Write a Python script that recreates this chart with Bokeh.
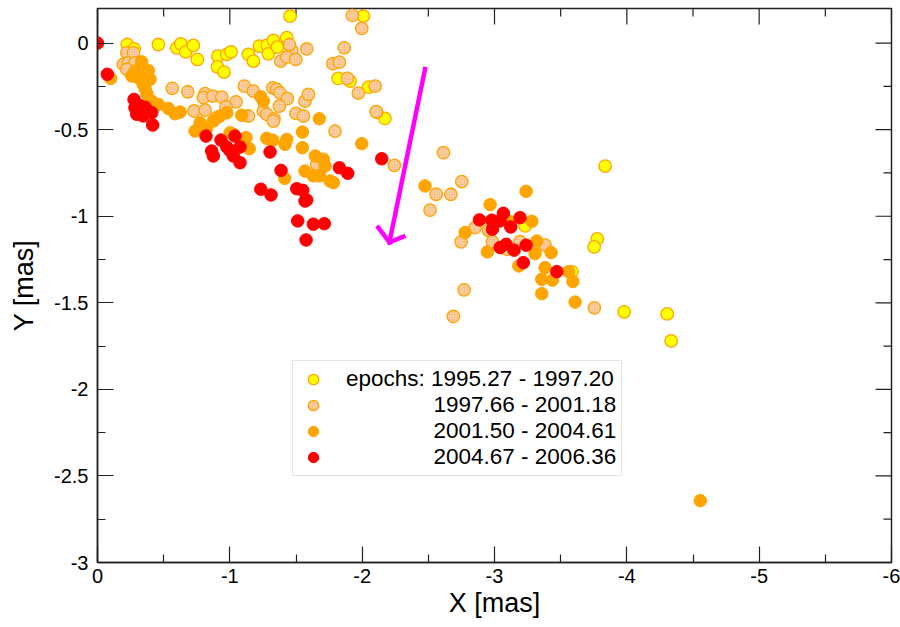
from bokeh.plotting import figure
from bokeh.models import Range1d, FixedTicker, Legend, LegendItem, Arrow
from bokeh.embed import file_html
from bokeh.resources import INLINE

# ---------------- data ----------------
# epochs 1995.27 - 1997.20 (yellow)
x_yellow = [-0.225, -0.278, -0.460, -0.599, -0.629, -0.667, -0.724, -0.754, -0.909,
            -0.906, -0.956, -0.977, -1.009, -1.140, -1.178, -1.223, -1.283, -1.291,
            -1.329, -1.359, -1.430, -1.455, -2.009, -1.818, -1.909, -2.048, -2.171,
            -3.836, -3.776, -3.753, -3.980, -4.305, -4.335, -3.231, -3.586]
y_yellow = [-0.008, -0.033, -0.008, -0.027, -0.004, -0.050, -0.013, -0.094, -0.075,
            -0.137, -0.167, -0.065, -0.050, -0.065, -0.104, -0.017, -0.012, -0.062,
            0.016, -0.023, 0.032, 0.156, 0.156, -0.204, -0.219, -0.254, -0.435,
            -0.710, -1.131, -1.177, -1.552, -1.564, -1.720, -1.056, -1.321]

# epochs 1997.66 - 2001.18 (hatched)
x_hatch = [-0.221, -0.271, -0.195, -0.233, -0.259, -0.296, -0.283, -0.221,
           -0.565, -0.682, -0.813, -0.800, -0.871, -0.939, -1.047, -0.729, -0.813,
           -0.901, -0.971, -1.140, -1.110, -1.178, -1.324, -1.354, -1.379, -1.435,
           -1.374, -1.253, -1.279, -1.334, -1.500, -1.556, -1.568, -1.594, -1.795,
           -2.110, -1.657, -1.926, -1.997, -1.865, -1.778, -1.828, -1.888, -1.971,
           -2.098, -2.105, -1.581, -1.468, -1.450, -1.385, -1.430, -1.498, -1.329,
           -2.243, -2.614, -2.753, -2.559, -2.670, -2.513, -2.853, -2.748, -2.954,
           -2.984, -3.093, -3.193, -3.382, -2.770, -2.689, -3.755]
y_hatch = [-0.056, -0.056, -0.123, -0.114, -0.143, -0.152, -0.114, -0.152,
           -0.261, -0.281, -0.292, -0.315, -0.306, -0.312, -0.339, -0.392, -0.387,
           -0.431, -0.369, -0.421, -0.248, -0.277, -0.258, -0.267, -0.287, -0.321,
           -0.364, -0.392, -0.411, -0.437, -0.406, -0.421, -0.335, -0.296, -0.508,
           -0.398, -0.700, 0.160, 0.085, -0.027, -0.119, -0.110, -0.204, -0.289,
           -0.248, -0.396, -0.033, -0.042, -0.008, -0.104, -0.081, -0.094, -0.450,
           -0.706, -0.633, -0.800, -0.873, -0.873, -0.965, -1.066, -1.148, -1.081,
           -1.147, -1.190, -1.147, -1.167, -1.425, -1.579, -1.529]

# epochs 2001.50 - 2004.61 (orange)
x_orange = [-0.100, -0.334, -0.384, -0.397, -0.359, -0.259, -0.308, -0.283, -0.344,
            -0.374, -0.410, -0.460, -0.535, -0.586, -0.624, -0.775, -0.737, -0.825,
            -0.875, -0.926, -0.977, -1.090, -1.147, -1.122, -1.002, -1.026, -1.234,
            -1.253, -1.279, -1.324, -1.430, -1.417, -1.548, -1.548, -1.676, -1.646,
            -1.707, -1.720, -1.568, -1.631, -1.676, -1.757, -1.782, -1.415, -1.997,
            -2.475, -2.778, -3.239, -2.967, -3.118, -3.282, -3.320, -2.946, -3.307,
            -3.428, -3.184, -3.382, -3.357, -3.438, -3.559, -3.592, -3.357, -3.609,
            -4.555]
y_orange = [-0.204, -0.108, -0.158, -0.209, -0.261, -0.190, -0.200, -0.162, -0.237,
            -0.294, -0.335, -0.354, -0.377, -0.408, -0.398, -0.460, -0.508, -0.489,
            -0.450, -0.421, -0.402, -0.417, -0.610, -0.546, -0.518, -0.527, -0.310,
            -0.335, -0.550, -0.561, -0.556, -0.585, -0.514, -0.604, -0.437, -0.652,
            -0.671, -0.710, -0.739, -0.767, -0.767, -0.796, -0.806, -0.781, -0.581,
            -0.825, -1.094, -0.856, -0.933, -1.031, -1.029, -1.143, -1.206, -1.216,
            -1.210, -1.287, -1.297, -1.364, -1.369, -1.320, -1.377, -1.447, -1.496,
            -2.643]

# epochs 2004.67 - 2006.36 (red)
x_red = [0.000, -0.074, -0.276, -0.283, -0.296, -0.346, -0.384, -0.410, -0.417,
         -0.320, -0.360, -0.820, -0.863, -0.875, -0.933, -0.977, -1.039, -1.077,
         -1.026, -1.077, -1.000, -1.304, -1.387, -1.234, -1.311, -1.506, -1.551,
         -1.568, -1.581, -1.513, -1.631, -1.714, -1.576, -1.828, -1.891, -2.148,
         -2.886, -2.980, -3.067, -3.042, -2.984, -3.123, -3.193, -3.042, -3.088,
         -3.148, -3.239, -3.218, -3.471]
y_red = [0.000, -0.180, -0.325, -0.373, -0.411, -0.421, -0.392, -0.402, -0.473,
         -0.360, -0.370, -0.537, -0.623, -0.652, -0.560, -0.600, -0.537, -0.600,
         -0.652, -0.691, -0.620, -0.629, -0.735, -0.844, -0.877, -0.841, -0.850,
         -0.912, -0.906, -1.027, -1.046, -1.043, -1.137, -0.720, -0.752, -0.668,
         -1.021, -1.023, -0.983, -1.027, -1.075, -1.062, -1.008, -1.181, -1.162,
         -1.196, -1.167, -1.268, -1.320]

legend_labels = ["epochs: 1995.27 - 1997.20", "1997.66 - 2001.18",
                 "2001.50 - 2004.61", "2004.67 - 2006.36"]

# magenta arrow: shaft start, tip, and the two ends of the open head
arrow_start = (-2.475, -0.150)
arrow_tip = (-2.206, -1.150)
arrow_head_left = (-2.122, -1.066)
arrow_head_right = (-2.311, -1.118)

x_ticks = [0, -1, -2, -3, -4, -5, -6]
x_minor = [-0.5, -1.5, -2.5, -3.5, -4.5, -5.5]
y_ticks = [0, -0.5, -1, -1.5, -2, -2.5, -3]
y_minor = [-0.25, -0.75, -1.25, -1.75, -2.25, -2.75]
x_tick_labels = ["0", "-1", "-2", "-3", "-4", "-5", "-6"]
y_tick_labels = ["0", "-0.5", "-1", "-1.5", "-2", "-2.5", "-3"]

X_RANGE = (0, -6)
Y_RANGE = (-3, 0.2)

# ---------------- figure ----------------
FONT = "Liberation Sans"
AX = "#222222"
p = figure(width=900, height=627, output_backend="svg", toolbar_location=None,
           x_range=Range1d(*X_RANGE), y_range=Range1d(*Y_RANGE),
           min_border_left=97, min_border_right=9, min_border_top=8,
           min_border_bottom=65, x_axis_label="X [mas]", y_axis_label="Y [mas]")
p.grid.visible = False
p.outline_line_color = AX
p.outline_line_width = 1.5
p.background_fill_color = "white"
p.border_fill_color = "white"

p.xaxis.ticker = FixedTicker(ticks=x_ticks, minor_ticks=x_minor)
p.yaxis.ticker = FixedTicker(ticks=y_ticks, minor_ticks=y_minor)
p.xaxis.major_label_overrides = dict(zip(x_ticks, x_tick_labels))
p.yaxis.major_label_overrides = dict(zip(y_ticks, y_tick_labels))

for ax in (p.xaxis[0], p.yaxis[0]):
    ax.axis_line_color = AX
    ax.axis_line_width = 1.5
    ax.major_tick_in = 16
    ax.major_tick_out = 0
    ax.minor_tick_in = 8
    ax.minor_tick_out = 0
    ax.major_tick_line_color = AX
    ax.minor_tick_line_color = AX
    ax.major_tick_line_width = 1.2
    ax.minor_tick_line_width = 1.2
    ax.major_label_text_font = FONT
    ax.major_label_text_font_size = "20px"
    ax.major_label_text_color = "black"
    ax.axis_label_text_font = FONT
    ax.axis_label_text_font_size = "27px"
    ax.axis_label_text_font_style = "normal"
    ax.axis_label_text_color = "black"
p.xaxis[0].major_label_standoff = 6
p.yaxis[0].major_label_standoff = 9
p.xaxis[0].axis_label_standoff = 2
p.yaxis[0].axis_label_standoff = 12

# mirrored inward ticks on the top and right frame edges (lengths in px -> data)
frame_w, frame_h = 794.0, 555.0
dx_px = abs(X_RANGE[1] - X_RANGE[0]) / frame_w
dy_px = abs(Y_RANGE[1] - Y_RANGE[0]) / frame_h
top_y = Y_RANGE[1]
right_x = X_RANGE[1]
tx = x_ticks + x_minor
tl = [16] * len(x_ticks) + [8] * len(x_minor)
p.segment(x0=tx, x1=tx, y0=[top_y] * len(tx),
          y1=[top_y - l * dy_px for l in tl], line_color=AX, line_width=1.2)
ty = y_ticks + y_minor
tly = [16] * len(y_ticks) + [8] * len(y_minor)
p.segment(x0=[right_x] * len(ty), x1=[right_x + l * dx_px for l in tly],
          y0=ty, y1=ty, line_color=AX, line_width=1.2)

SIZE = 12.5
r_y = p.scatter(x_yellow, y_yellow, size=SIZE, fill_color="#FFFF00",
                line_color="#FFA500", line_width=1.3)
r_h = p.scatter(x_hatch, y_hatch, size=SIZE, fill_color="#FBD2A6",
                line_color="#FFA500", line_width=1.3,
                hatch_pattern="cross", hatch_color="#F4B070",
                hatch_scale=2.5, hatch_weight=0.5)
r_o = p.scatter(x_orange, y_orange, size=SIZE, fill_color="#FFA500",
                line_color="#FFA500", line_width=1)
r_r = p.scatter(x_red, y_red, size=SIZE, fill_color="#FF0000",
                line_color="#FF0000", line_width=1)

MAG = "#FF00FF"
for (xa, ya) in (arrow_start, arrow_head_left, arrow_head_right):
    p.add_layout(Arrow(end=None, x_start=xa, y_start=ya,
                       x_end=arrow_tip[0], y_end=arrow_tip[1],
                       line_color=MAG, line_width=4.5, line_cap="square"))

pad = "\u00a0" * 14
legend = Legend(items=[
    LegendItem(label=legend_labels[0], renderers=[r_y]),
    LegendItem(label=pad + legend_labels[1], renderers=[r_h]),
    LegendItem(label=pad + legend_labels[2], renderers=[r_o]),
    LegendItem(label=pad + legend_labels[3], renderers=[r_r]),
], location=(195, 86))
legend.label_text_font = FONT
legend.label_text_font_size = "22.5px"
legend.label_text_color = "black"
legend.glyph_width = 30
legend.glyph_height = 26
legend.label_height = 26
legend.label_standoff = 18
legend.spacing = 0
legend.padding = 5
legend.margin = 0
legend.border_line_color = "#cccccc"
legend.border_line_width = 1
legend.background_fill_alpha = 1
p.add_layout(legend)

open("out.html", "w").write(file_html(p, INLINE))
